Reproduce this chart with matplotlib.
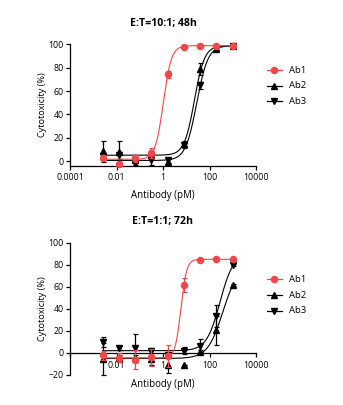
import numpy as np
import matplotlib
matplotlib.use('Agg')
import matplotlib.pyplot as plt
from matplotlib.ticker import FixedLocator, NullLocator

plt.rcParams['font.family'] = ['Open Sans', 'DejaVu Sans']

# ---------------- data ----------------
conc = [0.00256, 0.0128, 0.064, 0.32, 1.6, 8, 40, 200, 1000]
series_names = ['Ab1', 'Ab2', 'Ab3']

# E:T=10:1; 48h
ab1_48 = [2.9, -2.9, 2.3, 7.0, 74.3, 98.0, 98.6, 98.9, 99.0]
ab1_48_err = [2, 1, 3, 4, 3, 1, 1, 1, 1]
ab2_48 = [8.3, 8.0, 0.5, 5.5, -1.0, 15.0, 79.0, 96.5, 98.6]
ab2_48_err = [9, 9, 2, 3, 2.5, 2, 5, 1, 1]
ab3_48 = [4.0, 5.0, -1.7, 1.0, 0.5, 13.5, 65.0, 96.5, 99.0]
ab3_48_err = [3, 3, 2, 4, 2, 2, 3, 1, 1]
# 4PL fit parameters: bottom, top, logEC50, hill
fit_ab1_48 = [1.5, 99.0, 0.015, 2.5]
fit_ab2_48 = [5.0, 99.0, 1.35, 2.0]
fit_ab3_48 = [0.5, 99.0, 1.45, 1.8]

# E:T=1:1; 72h
ab1_72 = [-2.1, -4.5, -6.0, -4.0, -3.0, 61.5, 84.4, 84.7, 85.0]
ab1_72_err = [4, 4, 9, 8, 10, 6, 1, 1, 1]
ab2_72 = [-5.5, -5.0, -5.0, -5.5, -11.0, -10.5, 1.0, 20.4, 61.5]
ab2_72_err = [14.5, 3, 3, 5, 7, 0, 2, 13, 1]
ab3_72 = [9.6, 4.5, 4.5, 1.5, -1.5, 2.0, 6.6, 33.6, 79.6]
ab3_72_err = [4.5, 2, 13, 3, 2, 3, 6, 10, 1]
fit_ab1_72 = [-4.5, 84.8, 0.77, 3.5]
fit_ab2_72 = [-5.0, 80.0, 2.58, 1.32]
fit_ab3_72 = [2.0, 90.0, 2.45, 1.5]

xticks = [1e-4, 1e-2, 1, 1e2, 1e4]
xtick_labels_top = ['0.0001', '0.01', '1', '100', '10000']
xtick_labels_bottom = ['', '0.01', '1', '100', '10000']
titles = ['E:T=10:1; 48h', 'E:T=1:1; 72h']

RED = '#f2474a'
BLACK = '#000000'


def four_pl(x, p):
    b, t, le, h = p
    return b + (t - b) / (1 + 10 ** (h * (le - np.log10(x))))


fig = plt.figure(figsize=(3.43, 4.05), dpi=100)
L, W = 70, 186
ax1 = fig.add_axes([L / 343, 1 - 165.7 / 405, W / 343, 121.2 / 405])
ax2 = fig.add_axes([L / 343, 1 - 375 / 405, W / 343, 132.5 / 405])

styles = [(RED, 'o', 4.4), (BLACK, '^', 4.4), (BLACK, 'v', 4.4)]

panels = [
    (ax1, [ab1_48, ab2_48, ab3_48], [ab1_48_err, ab2_48_err, ab3_48_err],
     [fit_ab1_48, fit_ab2_48, fit_ab3_48], (-4, 100), [0, 20, 40, 60, 80, 100],
     xtick_labels_top, titles[0], [0.788, 0.661, 0.533]),
    (ax2, [ab1_72, ab2_72, ab3_72], [ab1_72_err, ab2_72_err, ab3_72_err],
     [fit_ab1_72, fit_ab2_72, fit_ab3_72], (-20, 100), [-20, 0, 20, 40, 60, 80, 100],
     xtick_labels_bottom, titles[1], [0.721, 0.603, 0.485]),
]

xs = np.logspace(np.log10(conc[0]), np.log10(conc[-1]), 300)

for ax, ys, errs, fits, ylim, yticks, xlabels, title, leg_y in panels:
    ax.set_xscale('log')
    for i in [2, 1, 0]:
        col, mk, ms = styles[i]
        z = 5 if i == 0 else 3
        ax.plot(xs, four_pl(xs, fits[i]), color=col, lw=0.8, zorder=z, clip_on=False)
        ax.errorbar(conc, ys[i], yerr=errs[i], fmt=mk, color=col, ms=ms,
                    mec=col, mfc=col, elinewidth=0.9, capsize=1.8, capthick=0.9,
                    zorder=z + 1, clip_on=False)
    ax.set_xlim(1e-4, 1e4)
    ax.set_ylim(*ylim)
    ax.xaxis.set_major_locator(FixedLocator(xticks))
    ax.xaxis.set_minor_locator(NullLocator())
    ax.set_xticklabels(xlabels)
    ax.set_yticks(yticks)
    for s in ['top', 'right']:
        ax.spines[s].set_visible(False)
    for s in ['left', 'bottom']:
        ax.spines[s].set_linewidth(0.9)
    ax.tick_params(axis='both', direction='out', length=3, width=0.9,
                   labelsize=6.3, pad=1.5)
    ax.tick_params(axis='x', pad=2.5)
    ax.set_ylabel('Cytotoxicity (%)', fontsize=6.6)
    ax.yaxis.set_label_coords(-0.125, 0.5)
    ax.set_title(title, fontsize=7.6, fontweight='bold', pad=13)
    # legend
    for i, name in enumerate(series_names):
        col, mk, ms = styles[i]
        ax.plot([1.058, 1.14], [leg_y[i], leg_y[i]], color=col, lw=0.9,
                transform=ax.transAxes, clip_on=False)
        ax.plot([1.099], [leg_y[i]], marker=mk, color=col, ms=ms,
                transform=ax.transAxes, clip_on=False)
        ax.text(1.175, leg_y[i], name, transform=ax.transAxes, fontsize=6.8,
                va='center', ha='left')

ax1.set_xlabel('Antibody (pM)', fontsize=6.9)
ax1.xaxis.set_label_coords(0.5, -0.2)

ax2.spines['bottom'].set_position(('data', 0))
ax2.set_xlabel('Antibody (pM)', fontsize=6.9)
ax2.xaxis.set_label_coords(0.5, -0.03)

fig.savefig('out.png', dpi=100)
